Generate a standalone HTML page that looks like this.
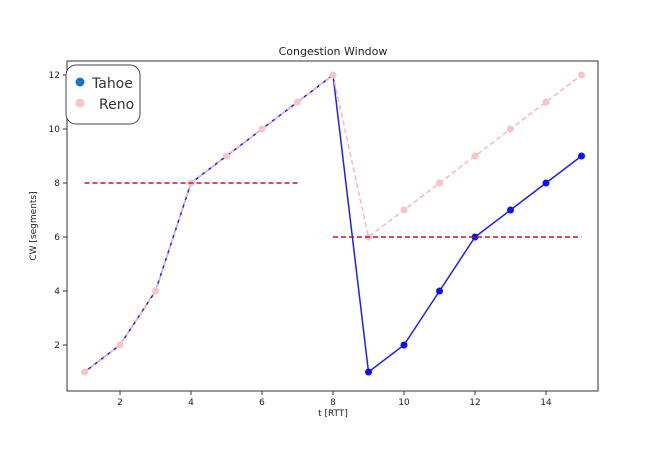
<!DOCTYPE html>
<html><head><meta charset="utf-8"><style>
body{margin:0;background:#fff;}
svg text{font-family:"DejaVu Sans","Liberation Sans",sans-serif;}
</style></head><body>
<svg id="chart" width="668" height="458" viewBox="0 0 668 458">
<rect x="0" y="0" width="668" height="458" fill="#fff"/>
<text x="333" y="55" font-size="11" text-anchor="middle" fill="#222">Congestion Window</text>
<g id="grid"></g>
<g id="marks"></g>
<rect x="67" y="61" width="531" height="330" fill="none" stroke="#333" stroke-width="1"/>
<text x="333" y="416" font-size="9" text-anchor="middle" fill="#222">t [RTT]</text>
<text x="0" y="0" font-size="9" text-anchor="middle" fill="#222" transform="translate(36,226) rotate(-90)">CW [segments]</text>
<g>
<rect x="66" y="65" width="74" height="59" rx="10" fill="#fff" stroke="#444" stroke-width="1"/>
<circle cx="80" cy="82" r="4.5" fill="#1f6fc4"/>
<text x="92" y="88" font-size="14" fill="#333">Tahoe</text>
<circle cx="80" cy="103" r="4.5" fill="#f8c4c8"/>
<text x="99" y="109" font-size="14" fill="#333">Reno</text>
</g>
</svg>
<script>
const tValues=[1,2,3,4,5,6,7,8,9,10,11,12,13,14,15];
const tahoe=[1,2,4,8,9,10,11,12,1,2,4,6,7,8,9];
const reno=[1,2,4,8,9,10,11,12,6,7,8,9,10,11,12];
const xTicks=[2,4,6,8,10,12,14];
const yTicks=[2,4,6,8,10,12];
const thresh1=[1,7,8];
const thresh2=[8,15,6];
const NS="http://www.w3.org/2000/svg";
function xs(v){return 84.5+(v-1)*35.5;}
function ys(v){return 399-v*27;}
const grid=document.getElementById('grid');
const marks=document.getElementById('marks');
function mk(tag,attrs,parent){const e=document.createElementNS(NS,tag);for(const k in attrs)e.setAttribute(k,attrs[k]);parent.appendChild(e);return e;}
xTicks.forEach(v=>{
 const l=mk('line',{x1:xs(v),x2:xs(v),y1:391,y2:395,stroke:'#333'},grid);
 
 
 const t=mk('text',{x:xs(v),y:405,'font-size':9,'text-anchor':'middle',fill:'#222'},grid);t.textContent=v;
 
 
});
yTicks.forEach(v=>{
 const l=mk('line',{x1:63,x2:67,y1:ys(v),y2:ys(v),stroke:'#333'},grid);
 
 
 const t=mk('text',{x:60,y:ys(v)+3,'font-size':9,'text-anchor':'end',fill:'#222'},grid);t.textContent=v;
 
 
});
function pts(arr){return tValues.map((t,i)=>xs(t)+','+ys(arr[i])).join(' ');}
const tl=mk('polyline',{points:pts(tahoe),fill:'none',stroke:'#2020e0','stroke-width':1.5},marks);


tValues.forEach((t,i)=>{if(t>=9){const c=mk('circle',{cx:xs(t),cy:ys(tahoe[i]),r:3.5,fill:'#1010f0'},marks);
 
 }});
const rl=mk('polyline',{points:pts(reno),fill:'none',stroke:'#f4b8c0','stroke-width':1.5,'stroke-dasharray':'5,3'},marks);


tValues.forEach((t,i)=>{const c=mk('circle',{cx:xs(t),cy:ys(reno[i]),r:3.5,fill:'#f8c4c8'},marks);
 
 });
[thresh1,thresh2].forEach((th,k)=>{
 const l=mk('line',{x1:xs(th[0]),x2:xs(th[1]),y1:ys(th[2]),y2:ys(th[2]),stroke:'#d0102a','stroke-width':1.5,'stroke-dasharray':'5,3'},marks);
 
 
});
</script>
</body></html>
